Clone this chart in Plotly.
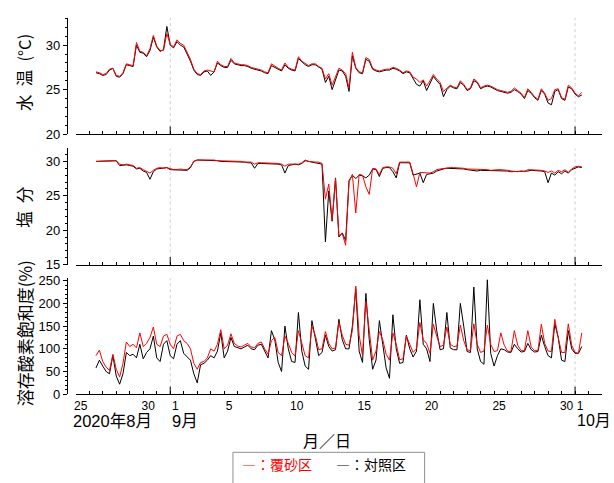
import pandas as pd
import plotly.graph_objects as go

# 6-hourly samples, 2020-08-26 12:00 .. 2020-10-01 12:00
times = pd.date_range("2020-08-26 12:00", periods=145, freq="6h")

# Water temperature (°C)
temp_red = [
    27.0, 26.9,
    26.7, 26.8, 27.3, 27.4,  26.6, 26.5, 26.9, 27.9,  27.8, 27.7, 30.3, 29.3,
    29.2, 28.8, 29.6, 31.1,  29.9, 29.4, 29.4, 31.3,  30.1, 29.8, 30.6, 30.2,
    30.0, 29.2, 28.4, 27.3,  26.8, 26.7, 27.1, 27.2,  27.1, 27.0, 28.2, 27.8,
    27.6, 27.6, 28.5, 28.0,  27.9, 27.8, 27.8, 27.7,  27.5, 27.4, 27.3, 27.2,
    27.0, 26.9, 27.9, 27.6,  27.4, 27.2, 28.0, 27.5,  27.3, 27.2, 28.7, 28.2,
    27.9, 27.7, 27.9, 27.9,  27.6, 27.4, 26.2, 26.8,  25.5, 26.4, 27.4, 27.2,
    26.8, 25.2, 29.2, 27.5,  27.0, 26.9, 28.6, 28.4,  27.4, 27.2, 27.1, 27.2,
    27.3, 27.3, 27.5, 27.4,  27.2, 26.9, 27.1, 27.0,  26.4, 26.2, 25.8, 26.1,
    25.4, 26.0, 26.7, 26.2,  25.8, 24.8, 25.2, 25.5,  25.3, 25.2, 26.0, 25.6,
    25.0, 25.2, 26.2, 25.9,  25.2, 25.4, 25.5, 25.4,  25.2, 25.0, 24.9, 24.8,
    24.7, 24.8, 25.2, 24.9,  24.6, 24.1, 25.1, 24.7,  24.2, 23.9, 25.1, 24.6,
    23.8, 24.0, 25.0, 25.1,  24.1, 23.9, 25.5, 25.2,
    24.6, 24.3, 24.7,
]
temp_black = [
    26.9, 26.8,
    26.6, 26.7, 27.2, 27.4,  26.5, 26.4, 26.8, 27.8,  27.7, 27.6, 30.0, 29.2,
    29.1, 28.7, 29.4, 30.9,  29.8, 29.3, 29.5, 32.1,  30.0, 29.7, 30.4, 30.0,
    29.8, 29.0, 28.2, 27.2,  26.7, 26.6, 27.0, 27.1,  26.6, 27.0, 28.0, 27.7,
    27.5, 27.5, 28.3, 27.9,  27.8, 27.7, 27.7, 27.6,  27.4, 27.3, 27.2, 27.1,
    26.9, 26.8, 27.7, 27.5,  27.3, 27.1, 27.8, 27.4,  27.2, 27.1, 28.5, 28.1,
    27.8, 27.6, 27.8, 27.8,  27.5, 27.3, 25.8, 26.5,  25.0, 26.1, 27.2, 27.1,
    26.5, 24.8, 28.8, 27.4,  26.9, 26.8, 28.4, 28.2,  27.3, 27.1, 27.0, 27.1,
    27.2, 27.2, 27.4, 27.3,  27.1, 26.8, 27.0, 26.9,  26.2, 25.6, 25.4, 26.0,
    24.9, 25.8, 26.5, 26.0,  25.6, 24.2, 25.0, 25.4,  25.2, 25.1, 25.8, 25.5,
    24.9, 25.1, 26.0, 25.8,  25.1, 25.3, 25.4, 25.3,  25.1, 24.9, 24.8, 24.7,
    24.6, 24.7, 25.0, 24.8,  24.5, 24.0, 24.9, 24.6,  24.1, 23.8, 24.9, 24.5,
    23.5, 23.3, 24.8, 25.0,  24.0, 23.8, 25.3, 25.1,
    24.5, 24.2, 24.4,
]

# Salinity
sal_red = [
    30.0, 30.0,
    30.0, 30.0, 30.1, 30.1,  30.1, 29.6, 29.5, 29.6,  29.5, 29.4, 29.0, 29.1,
    28.8, 28.6, 28.3, 28.7,  29.0, 29.1, 29.0, 29.1,  28.9, 28.8, 28.8, 28.9,
    28.8, 28.8, 29.2, 30.0,  30.2, 30.2, 30.3, 30.2,  30.2, 30.2, 30.1, 30.1,
    30.1, 30.0, 30.1, 30.0,  30.0, 30.0, 29.9, 29.9,  29.9, 29.6, 29.8, 29.8,
    29.8, 29.7, 29.8, 29.7,  29.7, 29.6, 29.3, 29.6,  29.6, 29.7, 29.6, 29.8,
    30.2, 30.0, 29.9, 29.9,  29.9, 29.7, 24.5, 26.7,  21.5, 27.5, 19.2, 19.5,
    17.8, 27.0, 28.1, 22.5,  28.1, 28.0, 26.3, 25.2,  29.0, 28.9, 28.1, 29.1,
    29.2, 29.2, 29.0, 28.2,  29.9, 29.9, 30.0, 29.9,  28.2, 26.3, 28.4, 28.4,
    28.3, 28.3, 28.5, 28.8,  28.9, 29.0, 29.1, 29.1,  29.1, 29.1, 29.0, 29.0,
    28.9, 28.9, 28.8, 28.8,  28.8, 28.8, 28.8, 28.7,  28.8, 28.8, 28.8, 28.8,
    28.7, 28.6, 28.5, 28.5,  28.6, 28.5, 28.8, 28.8,  28.8, 28.8, 28.7, 28.6,
    28.4, 28.6, 28.3, 28.7,  28.5, 28.8, 28.4, 28.9,
    29.2, 29.3, 29.2,
]
sal_black = [
    30.0, 30.0,
    30.0, 30.0, 30.1, 30.1,  30.1, 29.4, 29.5, 29.5,  29.4, 29.3, 28.9, 29.0,
    28.6, 28.4, 27.4, 28.5,  28.9, 29.0, 29.0, 29.1,  28.8, 28.8, 28.7, 28.8,
    28.7, 28.7, 29.1, 30.0,  30.2, 30.2, 30.2, 30.2,  30.1, 30.2, 30.1, 30.0,
    30.0, 30.0, 30.0, 30.0,  29.9, 29.9, 29.9, 29.8,  29.8, 29.0, 29.7, 29.7,
    29.7, 29.6, 29.7, 29.6,  29.6, 29.5, 28.3, 29.4,  29.5, 29.6, 29.5, 29.7,
    30.1, 30.0, 29.9, 29.8,  29.8, 29.6, 18.3, 25.7,  21.3, 27.6, 19.0, 19.6,
    18.5, 27.2, 28.0, 27.5,  28.0, 27.9, 27.6, 28.0,  28.9, 28.8, 27.8, 29.0,
    29.1, 29.1, 28.5, 27.6,  29.8, 29.8, 29.9, 29.8,  28.0, 28.2, 28.3, 26.9,
    28.1, 28.2, 28.3, 28.6,  28.8, 28.9, 29.0, 29.0,  29.0, 29.0, 28.9, 28.9,
    28.8, 28.7, 28.7, 28.6,  28.7, 28.7, 28.6, 28.6,  28.6, 28.7, 28.7, 28.6,
    28.6, 28.5, 28.5, 28.5,  28.5, 28.5, 28.6, 28.7,  28.7, 28.7, 28.6, 28.5,
    26.9, 28.3, 28.0, 28.5,  28.2, 28.6, 28.3, 28.8,
    29.0, 29.2, 29.1,
]

# Dissolved oxygen saturation (%)
do_red = [
    85, 97,
    72, 60, 52, 88,  55, 38, 68, 115,  105, 110, 102, 135,
    105, 112, 125, 148,  110, 105, 128, 132,  110, 100, 128, 132,
    118, 112, 100, 68,  55, 70, 72, 80,  100, 95, 110, 142,
    100, 108, 133, 112,  106, 104, 108, 112,  104, 102, 112, 115,
    100, 88, 118, 125,  92, 85, 128, 112,  92, 84, 140, 112,
    85, 80, 150, 130,  98, 100, 138, 112,  100, 102, 158, 130,
    110, 108, 140, 238,  130, 85, 205, 140,  75, 95, 138, 120,
    88, 75, 135, 110,  76, 78, 128, 110,  92, 100, 158, 120,
    112, 90, 154, 128,  105, 108, 148, 110,  105, 106, 152, 118,
    98, 96, 155, 110,  92, 95, 152, 110,  94, 96, 135, 108,
    95, 94, 140, 108,  96, 96, 140, 104,  96, 96, 154, 112,
    95, 94, 165, 125,  92, 92, 155, 108,
    92, 90, 135,
]
do_black = [
    58, 75,
    62, 50, 45, 85,  40, 22, 45, 92,  85, 88, 80, 110,
    78, 92, 100, 128,  80, 72, 110, 118,  85, 78, 110, 118,
    90, 82, 75, 45,  25, 65, 68, 75,  85, 80, 95, 135,
    80, 95, 125, 105,  102, 100, 104, 108,  100, 98, 108, 110,
    95, 80, 140, 120,  70, 50, 150, 100,  72, 70, 180, 95,
    62, 55, 162, 125,  85, 92, 130, 105,  95, 98, 165, 120,
    100, 100, 150, 232,  95, 70, 222, 120,  55, 75, 162, 110,
    58, 35, 175, 100,  68, 70, 130, 100,  82, 95, 208, 110,
    100, 72, 200, 140,  98, 100, 180, 102,  98, 98, 200, 150,
    94, 92, 236, 100,  72, 66, 252, 90,  62, 85, 100, 98,
    93, 92, 110, 100,  93, 94, 112, 98,  93, 94, 130, 105,
    85, 80, 155, 125,  75, 72, 140, 100,
    90, 90, 105,
]

# x-axis day ticks and labels
tick_days = ["2020-08-25", "2020-08-30", "2020-09-01", "2020-09-05", "2020-09-10",
             "2020-09-15", "2020-09-20", "2020-09-25", "2020-09-30", "2020-10-01"]
tick_text = ["25", "30", "1", "5", "10", "15", "20", "25", "30", "1"]
month_marks = ["2020-09-01", "2020-10-01"]
month_labels = ["2020年8月", "9月", "10月"]

W, H = 614, 483
FONT = "Liberation Sans, Arial, Noto Sans CJK JP, sans-serif"
CJK = "Noto Sans CJK JP, Liberation Sans, sans-serif"

def px(x):
    return x / W

def py(y):
    return 1 - y / H

xdom = [px(74), px(602)]
xrange_ = ["2020-08-25", "2020-10-03"]
ypos = px(65)
ydoms = [[py(132.7), py(13.3)], [py(266.7), py(147.3)], [py(400), py(280.7)]]
yranges = [[20, 33.06], [15, 31.9], [0, 255.6]]
yticks = [[20, 25, 30], [15, 20, 25, 30], [0, 50, 100, 150, 200, 250]]
yminor = [1, 1, 10]

all_days = pd.date_range("2020-08-25", "2020-10-03", freq="D")
lab = {pd.Timestamp(d): t for d, t in zip(tick_days, tick_text)}
day_text = [lab.get(d, "") for d in all_days]

fig = go.Figure()
series = [(temp_black, temp_red), (sal_black, sal_red), (do_black, do_red)]
for i, (b, r) in enumerate(series):
    xa = "x" if i == 0 else f"x{i+1}"
    ya = "y" if i == 0 else f"y{i+1}"
    fig.add_trace(go.Scatter(x=times, y=b, mode="lines", name="対照区",
                             line=dict(color="#000000", width=1),
                             xaxis=xa, yaxis=ya, showlegend=False))
    fig.add_trace(go.Scatter(x=times, y=r, mode="lines", name="覆砂区",
                             line=dict(color="#ff0000", width=1),
                             xaxis=xa, yaxis=ya, showlegend=False))

layout = dict(
    width=W, height=H, autosize=False,
    margin=dict(l=0, r=0, t=0, b=0),
    paper_bgcolor="white", plot_bgcolor="white",
    font=dict(family=FONT, size=13, color="black"),
    showlegend=False,
)
for i in range(3):
    xk = "xaxis" if i == 0 else f"xaxis{i+1}"
    yk = "yaxis" if i == 0 else f"yaxis{i+1}"
    ya = "y" if i == 0 else f"y{i+1}"
    layout[xk] = dict(
        domain=xdom, range=xrange_, type="date", anchor=ya,
        showline=True, linecolor="black", linewidth=1,
        showgrid=False, zeroline=False,
        tickmode="array", tickvals=list(all_days), ticktext=day_text,
        ticks="inside", ticklen=3, tickcolor="black", tickwidth=1,
        showticklabels=(i == 2), ticklabelshift=5,
        tickfont=dict(size=12, family=FONT),
    )
    layout[yk] = dict(
        domain=ydoms[i], range=yranges[i], anchor="free", position=ypos,
        showline=True, linecolor="black", linewidth=1,
        showgrid=False, zeroline=False,
        tickmode="array", tickvals=yticks[i],
        ticks="outside", ticklen=4, tickcolor="black", tickwidth=1,
        tickfont=dict(size=13, family=FONT),
        minor=dict(ticks="outside", ticklen=2, tickcolor="black", tickwidth=1,
                   dtick=yminor[i], showgrid=False),
    )
fig.update_layout(**layout)

shapes = []
for i in range(3):
    xa = "x" if i == 0 else f"x{i+1}"
    yd = ("y" if i == 0 else f"y{i+1}") + " domain"
    for m in month_marks:
        shapes.append(dict(type="line", xref=xa, yref=yd, x0=m, x1=m, y0=0, y1=1,
                           line=dict(color="#cfcfcf", width=1, dash="dot"), layer="below"))
        shapes.append(dict(type="line", xref=xa, yref=yd, x0=m, x1=m, y0=0, y1=0.065,
                           line=dict(color="black", width=1)))
# legend frame
shapes.append(dict(type="rect", xref="paper", yref="paper",
                   x0=px(231.7), x1=px(424), y0=py(459.7), y1=py(492),
                   line=dict(color="#909090", width=1), fillcolor="rgba(0,0,0,0)"))
fig.update_layout(shapes=shapes)

ann = []
ytitles = ["水\u2002温\u2002(°C)", "塩\u2002分", "溶存酸素飽和度(%)"]
ycent = [69, 207.5, 337.5]
ysizes = [16.5, 16.5, 17]
for t, yc, s in zip(ytitles, ycent, ysizes):
    ann.append(dict(text=t, xref="paper", yref="paper", x=px(22), y=py(yc),
                    xanchor="center", yanchor="middle", textangle=-90,
                    showarrow=False, font=dict(size=s, family=CJK, color="black")))
for lbl, xc, s in zip(month_labels, [111, 183.5, 594], [16.5, 16.5, 16]):
    ann.append(dict(text=lbl, xref="paper", yref="paper", x=px(xc), y=py(427),
                    xanchor="center", yanchor="middle", showarrow=False,
                    font=dict(size=s, family=FONT, color="black")))
ann.append(dict(text="月／日", xref="paper", yref="paper", x=px(326), y=py(447),
                xanchor="center", yanchor="middle", showarrow=False,
                font=dict(size=16, family=CJK, color="black")))
ann.append(dict(text="―：覆砂区", xref="paper", yref="paper", x=px(276), y=py(472),
                xanchor="center", yanchor="middle", showarrow=False,
                font=dict(size=14, family=CJK, color="#ff0000")))
ann.append(dict(text="―：対照区", xref="paper", yref="paper", x=px(370), y=py(472),
                xanchor="center", yanchor="middle", showarrow=False,
                font=dict(size=14, family=CJK, color="#000000")))
fig.update_layout(annotations=ann)

fig.write_html("out.html",
               config={"displayModeBar": False},
               post_script="document.body.style.margin='0';document.body.style.overflow='hidden';")
